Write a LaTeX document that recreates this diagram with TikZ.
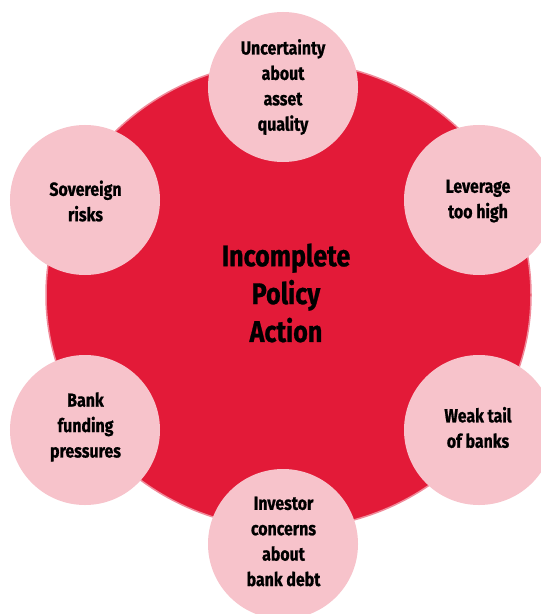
\documentclass[tikz,border=0pt]{standalone}
\usepackage{fontspec}
\newfontfamily\lbl[FakeStretch=0.84, BoldFeatures={FakeBold=0.8}]{Fira Sans}
\definecolor{bigred}{HTML}{E31A38}
\definecolor{bigedge}{HTML}{F08A9A}
\definecolor{softpink}{HTML}{F7C3CB}
\tikzset{
  issue/.style={circle, fill=softpink, minimum size=150bp, inner sep=0pt},
  issuetext/.style={align=center, font=\lbl\bfseries\fontsize{19}{25.5}\selectfont, text=black},
  coretext/.style={align=center, font=\lbl\bfseries\fontsize{30}{38}\selectfont, text=black}
}
\begin{document}
\begin{tikzpicture}[x=1bp,y=-1bp]
\useasboundingbox (0,0) rectangle (541,614);
\fill[white] (0,0) rectangle (541,614);
\draw[fill=bigred, draw=bigedge, line width=1.5bp] (288.5,295) ellipse [x radius=242.5, y radius=233.5];
\node[issue] (c1) at (283,87) {};
\node[issue] (c2) at (479,200) {};
\node[issue] (c3) at (479,430) {};
\node[issue] (c4) at (283,544) {};
\node[issue] (c5) at (85,430) {};
\node[issue] (c6) at (85,200) {};
\node[issuetext] (t1) at (283,87) {Uncertainty\\about\\asset\\quality};
\node[issuetext] (t2) at (478,201) {Leverage\\too high};
\node[issuetext] (t3) at (478,427.5) {Weak tail\\of banks};
\node[issuetext] (t4) at (283.5,541.5) {Investor\\concerns\\about\\bank debt};
\node[issuetext] (t5) at (85.5,427) {Bank\\funding\\pressures};
\node[issuetext] (t6) at (85.5,201) {Sovereign\\risks};
\node[coretext] (core) at (286,293) {Incomplete\\Policy\\Action};
\end{tikzpicture}
\end{document}
